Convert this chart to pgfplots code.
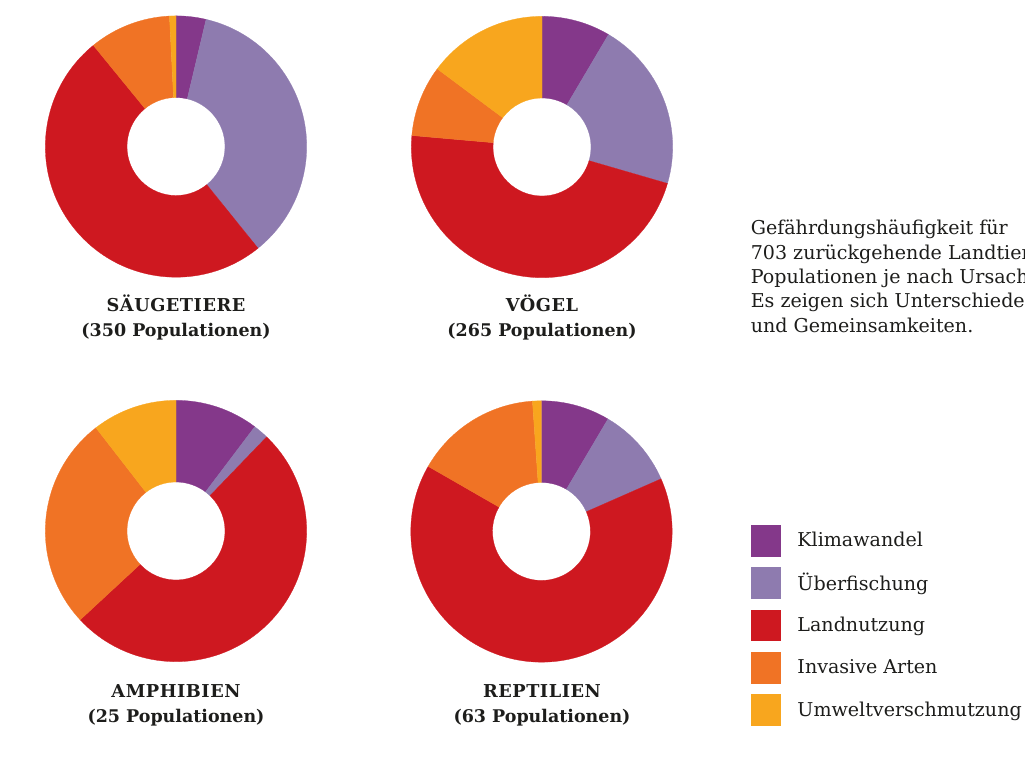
\documentclass[border=0pt]{standalone}
\usepackage{fontspec}
\setmainfont{DejaVu Serif}
\newfontfamily\trackedfont[LetterSpace=3]{DejaVu Serif}
\usepackage{pgfplots}
\usepackage{pgfplotstable}
\pgfplotsset{compat=1.18}

\definecolor{c0}{HTML}{84388A}
\definecolor{c1}{HTML}{8E7BAF}
\definecolor{c2}{HTML}{CE1820}
\definecolor{c3}{HTML}{F07325}
\definecolor{c4}{HTML}{F8A61E}
\definecolor{txt}{HTML}{1D1D1B}

% share of threats (percent), clockwise from 12 o'clock
\pgfplotstableread{
cause          saeuge voegel amphib reptil
Klimawandel      3.7    8.5   10.3    8.5
Ueberfischung   35.5   21.0    1.9    9.9
Landnutzung     49.9   46.9   50.9   64.9
Invasive        10.1    8.8   26.4   15.6
Umwelt           0.8   14.8   10.5    1.1
}\threats

\newcommand\Ro{98}
\newcommand\Ri{36.75}

\newcommand{\donut}[1]{%
  \def\cum{0}%
  \pgfplotsforeachungrouped \i in {0,...,4}{%
    \pgfplotstablegetelem{\i}{#1}\of\threats
    \pgfmathsetmacro{\aA}{\cum*3.6}%
    \pgfmathsetmacro{\cum}{\cum+\pgfplotsretval}%
    \pgfmathsetmacro{\aB}{\cum*3.6}%
    \pgfmathsetmacro{\xA}{\Ro*sin(\aA)}%
    \pgfmathsetmacro{\yA}{\Ro*cos(\aA)}%
    \pgfmathsetmacro{\xB}{\Ri*sin(\aB)}%
    \pgfmathsetmacro{\yB}{\Ri*cos(\aB)}%
    \pgfmathsetmacro{\sA}{90-\aA}%
    \pgfmathsetmacro{\sB}{90-\aB}%
    \edef\temp{\noexpand\fill[c\i, draw=c\i, line width=0.2pt] (axis cs:\xA,\yA) arc[start angle=\sA, end angle=\sB, radius=\Ro pt] -- (axis cs:\xB,\yB) arc[start angle=\sB, end angle=\sA, radius=\Ri pt] -- cycle;}%
    \temp
  }%
}

\pgfplotsset{donut/.style={hide axis, x=1pt, y=1pt, xmin=-100, xmax=100, ymin=-100, ymax=100, anchor=origin, clip=false}}

\begin{document}
\begin{tikzpicture}
\path[use as bounding box, clip] (0,0) rectangle (768.75pt,582pt);

\begin{axis}[donut, at={(132pt,472.1pt)}]
\donut{saeuge}
\end{axis}

\begin{axis}[donut, at={(406.5pt,471.75pt)}]
\donut{voegel}
\end{axis}

\begin{axis}[donut, at={(132pt,183.75pt)}]
\donut{amphib}
\end{axis}

\begin{axis}[donut, at={(406.1pt,183.4pt)},
  legend style={at={(axis cs:157.1,4.85)}, anchor=north west, draw=none, fill=none,
    inner sep=0pt, outer sep=0pt, row sep=8.1pt,
    font=\fontsize{14.3}{16}\selectfont, text=txt,
    nodes={inner sep=0pt},
    /tikz/every odd column/.append style={column sep=12.75pt}},
  legend cell align=left,
  legend image code/.code={\fill[#1] (0pt,-11.6pt) rectangle (21.75pt,11.6pt);}]
\donut{reptil}
\addlegendimage{c0}\addlegendentry{Klimawandel}
\addlegendimage{c1}\addlegendentry{Überfischung}
\addlegendimage{c2}\addlegendentry{Landnutzung}
\addlegendimage{c3}\addlegendentry{Invasive Arten}
\addlegendimage{c4}\addlegendentry{Umweltverschmutzung}
\end{axis}

% titles
\begin{scope}[every node/.style={inner sep=0pt, text=txt}]
\node[anchor=base] at (132pt,348pt) {\trackedfont\fontsize{13.3}{15}\selectfont\bfseries SÄUGETIERE};
\node[anchor=base] at (132pt,329.25pt) {\fontsize{13.1}{15}\selectfont\bfseries (350 Populationen)};
\node[anchor=base] at (406.5pt,348pt) {\trackedfont\fontsize{13.3}{15}\selectfont\bfseries VÖGEL};
\node[anchor=base] at (406.5pt,329.25pt) {\fontsize{13.1}{15}\selectfont\bfseries (265 Populationen)};
\node[anchor=base] at (132pt,59.25pt) {\trackedfont\fontsize{13.3}{15}\selectfont\bfseries AMPHIBIEN};
\node[anchor=base] at (132pt,40.5pt) {\fontsize{13.1}{15}\selectfont\bfseries (25 Populationen)};
\node[anchor=base] at (406.5pt,59.25pt) {\trackedfont\fontsize{13.3}{15}\selectfont\bfseries REPTILIEN};
\node[anchor=base] at (406.5pt,40.5pt) {\fontsize{13.1}{15}\selectfont\bfseries (63 Populationen)};
% description
\node[anchor=base west] at (562.9pt,405.75pt) {\fontsize{14.3}{16}\selectfont Gefährdungshäufigkeit für};
\node[anchor=base west] at (562.9pt,387.5pt) {\fontsize{14.3}{16}\selectfont 703 zurückgehende Landtier-};
\node[anchor=base west] at (562.9pt,369.3pt) {\fontsize{14.3}{16}\selectfont Populationen je nach Ursache.};
\node[anchor=base west] at (562.9pt,351.1pt) {\fontsize{14.3}{16}\selectfont Es zeigen sich Unterschiede};
\node[anchor=base west] at (562.9pt,332.85pt) {\fontsize{14.3}{16}\selectfont und Gemeinsamkeiten.};
\end{scope}
\end{tikzpicture}
\end{document}
